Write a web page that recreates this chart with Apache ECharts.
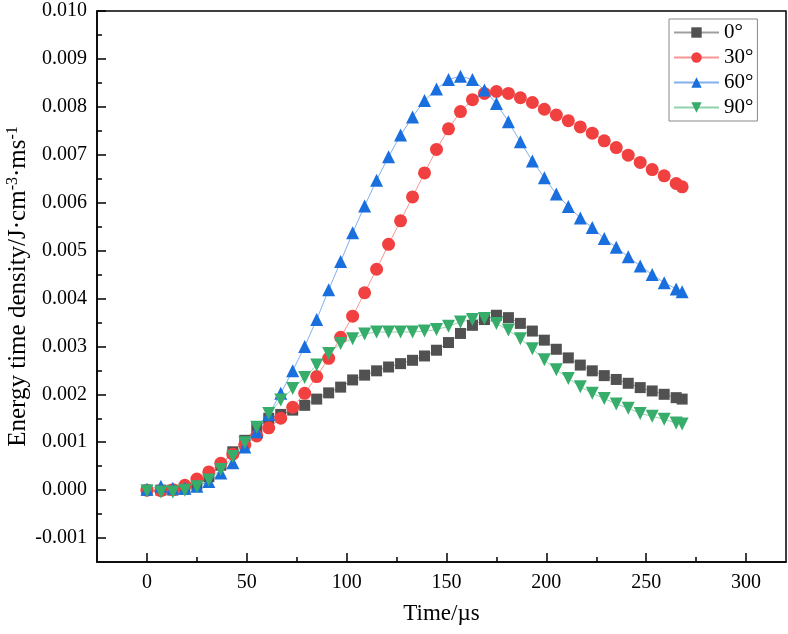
<!DOCTYPE html>
<html>
<head>
<meta charset="utf-8">
<script src="https://cdn.jsdelivr.net/npm/echarts@6/dist/echarts.min.js"></script>
<style>
  html, body { margin: 0; padding: 0; background: #fff; }
  #chart { width: 788px; height: 634px; }
</style>
</head>
<body>
<div id="chart"></div>
<script>
// time in µs
var times = [0, 7, 13, 19, 25, 31, 37, 43, 49, 55, 61, 67, 73, 79, 85, 91, 97, 103, 109, 115, 121, 127, 133, 139, 145,
  151, 157, 163, 169, 175, 181, 187, 193, 199, 205, 211, 217, 223, 229, 235, 241, 247, 253, 259, 265, 268];

var deg0 = [0, 0, 0, 0.00002, 0.00012, 0.00028, 0.00052, 0.00080, 0.00104, 0.00130, 0.00150, 0.00158, 0.00167, 0.00177,
  0.00190, 0.00203, 0.00215, 0.00230, 0.00240, 0.00249, 0.00257, 0.00264, 0.00271, 0.00280, 0.00292, 0.00308, 0.00327,
  0.00344, 0.00356, 0.00365, 0.00360, 0.00348, 0.00332, 0.00313, 0.00294, 0.00276, 0.00261, 0.00249, 0.00239, 0.00231,
  0.00223, 0.00214, 0.00207, 0.00200, 0.00193, 0.00190];

var deg30 = [0, -0.00001, 0.00001, 0.00010, 0.00023, 0.00038, 0.00056, 0.00075, 0.00094, 0.00113, 0.00130, 0.00150,
  0.00173, 0.00202, 0.00237, 0.00275, 0.00319, 0.00363, 0.00412, 0.00461, 0.00513, 0.00562, 0.00612, 0.00662, 0.00711,
  0.00754, 0.00790, 0.00815, 0.00828, 0.00832, 0.00828, 0.00819, 0.00809, 0.00795, 0.00783, 0.00771, 0.00758, 0.00745,
  0.00729, 0.00715, 0.00699, 0.00684, 0.00669, 0.00656, 0.00640, 0.00633];

var deg60 = [0.00002, 0.00008, 0.00004, 0.00004, 0.00008, 0.00018, 0.00036, 0.00057, 0.00090, 0.00122, 0.00158, 0.00202,
  0.00249, 0.00300, 0.00356, 0.00418, 0.00477, 0.00537, 0.00593, 0.00647, 0.00696, 0.00741, 0.00779, 0.00813, 0.00837,
  0.00857, 0.00864, 0.00857, 0.00835, 0.00807, 0.00769, 0.00727, 0.00687, 0.00652, 0.00618, 0.00592, 0.00568, 0.00548,
  0.00525, 0.00507, 0.00487, 0.00468, 0.00450, 0.00433, 0.00420, 0.00414];

var deg90 = [-0.00002, -0.00004, -0.00004, 0, 0.00007, 0.00021, 0.00043, 0.00070, 0.00099, 0.00131, 0.00160, 0.00188,
  0.00212, 0.00235, 0.00261, 0.00285, 0.00306, 0.00316, 0.00326, 0.00330, 0.00330, 0.00330, 0.00330, 0.00332, 0.00335,
  0.00342, 0.00351, 0.00356, 0.00358, 0.00348, 0.00334, 0.00316, 0.00295, 0.00272, 0.00251, 0.00233, 0.00216, 0.00202,
  0.00191, 0.00180, 0.00171, 0.00160, 0.00154, 0.00148, 0.00140, 0.00138];

var xMajor = [0, 50, 100, 150, 200, 250, 300];
var xMinor = [25, 75, 125, 175, 225, 275];
var yMajor = [-0.001, 0, 0.001, 0.002, 0.003, 0.004, 0.005, 0.006, 0.007, 0.008, 0.009, 0.010];
var yMinor = [-0.0005, 0.0005, 0.0015, 0.0025, 0.0035, 0.0045, 0.0055, 0.0065, 0.0075, 0.0085, 0.0095];

var names = ['0°', '30°', '60°', '90°'];
var colors = ['#515151', '#F14040', '#1A6FDF', '#37AD6B'];

var font = 'Liberation Serif';
var X_MIN = -25, X_MAX = 320, Y_MIN = -0.0015, Y_MAX = 0.010;

function pairs(vals) {
  return times.map(function (t, i) { return [t, vals[i]]; });
}

function makeSeries(name, vals, color, symbol, size, rotate) {
  return {
    name: name,
    type: 'line',
    data: pairs(vals),
    symbol: symbol,
    symbolSize: size,
    symbolRotate: rotate || 0,
    showSymbol: true,
    itemStyle: { color: color, opacity: 1 },
    lineStyle: { color: color, width: 1, opacity: 0.55 },
    emphasis: { disabled: true },
    animation: false
  };
}

// axis that only draws ticks (major or minor)
function tickAxis(kind, min, max, values, len) {
  return {
    type: 'value', min: min, max: max,
    position: kind === 'x' ? 'bottom' : 'left',
    axisLine: { show: false, onZero: false },
    axisTick: { show: true, inside: true, length: len, customValues: values, lineStyle: { color: '#000', width: 1.5 } },
    axisLabel: { show: false, customValues: values },
    splitLine: { show: false }
  };
}

var chart = echarts.init(document.getElementById('chart'));

var option = {
  backgroundColor: '#fff',
  animation: false,
  grid: {
    left: 97, right: 2, top: 11, bottom: 72,
    outerBoundsMode: 'none',
    containLabel: false,
    show: true, borderColor: '#000', borderWidth: 1.5
  },
  legend: {
    orient: 'vertical',
    left: 669, top: 19,
    padding: [3, 4, 3, 4],
    itemWidth: 45, itemHeight: 13, itemGap: 4,
    borderColor: '#888', borderWidth: 1, borderRadius: 0,
    backgroundColor: '#fff',
    textStyle: { fontFamily: font, fontSize: 21, color: '#000' },
    data: names
  },
  xAxis: [
    {
      type: 'value', min: X_MIN, max: X_MAX,
      name: 'Time/µs', nameLocation: 'middle', nameGap: 40, nameMoveOverlap: false,
      nameTextStyle: { fontFamily: font, fontSize: 23, color: '#000' },
      axisLine: { show: true, onZero: false, lineStyle: { color: '#000', width: 1.5 } },
      axisTick: { show: false },
      axisLabel: { customValues: xMajor, fontFamily: font, fontSize: 20, color: '#000', margin: 11 },
      splitLine: { show: false }
    },
    tickAxis('x', X_MIN, X_MAX, xMajor, 9),
    tickAxis('x', X_MIN, X_MAX, xMinor, 5)
  ],
  yAxis: [
    {
      type: 'value', min: Y_MIN, max: Y_MAX,
      name: 'Energy time density/J·cm{sup|-3}·ms{sup|-1}', nameLocation: 'middle', nameGap: 66, nameMoveOverlap: false,
      nameTextStyle: {
        fontFamily: font, fontSize: 25, color: '#000',
        rich: { sup: { fontFamily: font, fontSize: 16, color: '#000', verticalAlign: 'top', padding: [0, 0, 10, 0] } }
      },
      axisLine: { show: true, onZero: false, lineStyle: { color: '#000', width: 1.5 } },
      axisTick: { show: false },
      axisLabel: {
        customValues: yMajor, fontFamily: font, fontSize: 20, color: '#000', margin: 10,
        formatter: function (v) { return v.toFixed(3); }
      },
      splitLine: { show: false }
    },
    tickAxis('y', Y_MIN, Y_MAX, yMajor, 9),
    tickAxis('y', Y_MIN, Y_MAX, yMinor, 5)
  ],
  series: [
    makeSeries(names[0], deg0, colors[0], 'rect', 11),
    makeSeries(names[1], deg30, colors[1], 'circle', 13),
    makeSeries(names[2], deg60, colors[2], 'triangle', 13),
    makeSeries(names[3], deg90, colors[3], 'triangle', 13, 180)
  ]
};

chart.setOption(option);
</script>
</body>
</html>
